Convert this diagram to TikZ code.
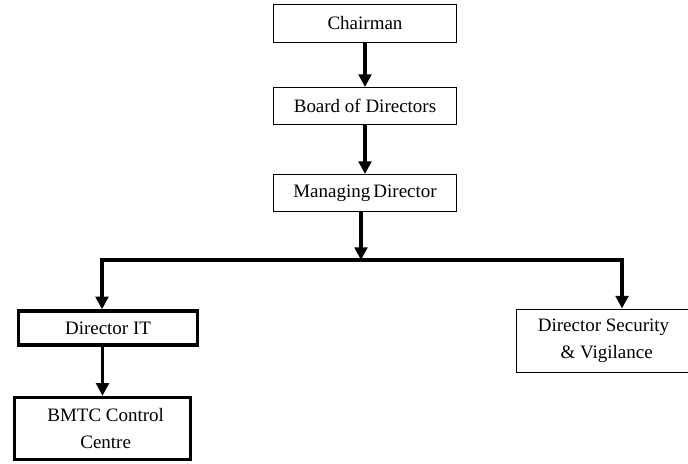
\documentclass[tikz,border=0pt]{standalone}
\usepackage{fontspec}
\setmainfont{Liberation Serif}
\usetikzlibrary{arrows.meta, positioning}

\begin{document}
\begin{tikzpicture}[
    x=0.025cm, y=-0.025cm,
    box/.style={draw, line width=0.7pt, minimum width=4.55cm, minimum height=0.925cm, align=center,
      font=\fontsize{13.5}{19}\selectfont},
    boldbox/.style={box, line width=2.4pt},
    arr/.style={-{Triangle[length=9pt, width=9pt]}, line width=2.6pt},
    every node/.style={inner sep=2pt}
  ]
    \useasboundingbox (0,0) rectangle (688,464);

    %% ── top chain ──
    \node[box] (chair) at (365,23.5) {Chairman};
    \node[box] (board) at (365,106)  {Board of Directors};
    \node[box] (md)    at (365,193)  {Managing\,Director};

    %% ── directors ──
    \node[boldbox, minimum width=4.475cm, minimum height=0.85cm] (dirit) at (108,328) {Director IT};
    \node[box, minimum width=4.325cm, minimum height=1.575cm] (dsv) at (603.5,340.5)
      {Director Security\\\,\,\& Vigilance};
    \node[boldbox, minimum width=4.4cm, minimum height=1.55cm] (bmtc) at (102.5,428.5)
      {\,\,BMTC Control\\\,\,Centre};

    %% ── split point ──
    \coordinate (split) at (361,260);
    \coordinate (lt) at (102,260);
    \coordinate (rt) at (622,260);

    %% ═══════ ARROWS ═══════
    \draw[arr] (chair) -- (board);
    \draw[arr] (board) -- (md);
    \draw[arr] (md.south -| split) -- (split);
    \draw[arr] (split) -- (lt) -- (lt |- dirit.north);
    \draw[arr] (split) -- (rt) -- (rt |- dsv.north);
    \draw[arr] (bmtc.north |- dirit.south) -- (bmtc.north);

\end{tikzpicture}
\end{document}
